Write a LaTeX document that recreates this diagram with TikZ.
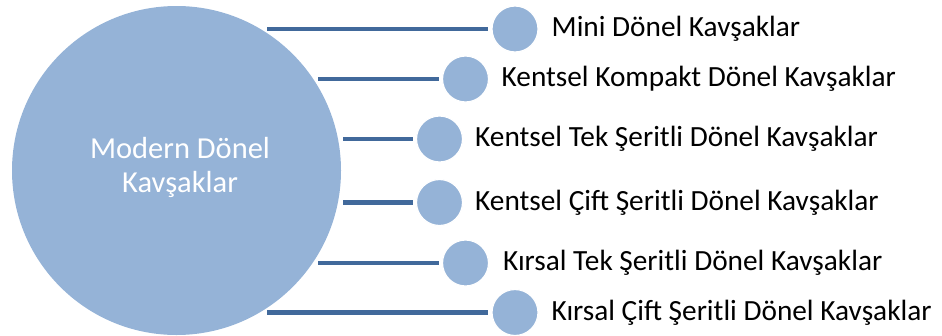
\documentclass[tikz,border=0pt]{standalone}
\usepackage{fontspec}
\setmainfont{Carlito}
\definecolor{circfill}{HTML}{95B3D7}
\definecolor{linecol}{HTML}{41699B}
\tikzset{
  bigcirc/.style={circle, fill=circfill, minimum size=329pt, inner sep=0pt},
  smallcirc/.style={circle, fill=circfill, draw=white, line width=1.2pt, minimum size=46pt, inner sep=0pt},
  conn/.style={draw=linecol, line width=4.3pt, preaction={draw=white, line width=8pt}},
  lbl/.style={anchor=west, font=\fontsize{29.3}{34}\selectfont, inner sep=0pt},
  bigtext/.style={align=center, text=white, font=\fontsize{30.5}{34}\selectfont, inner sep=0pt}
}
\begin{document}
\begin{tikzpicture}[x=1pt,y=-1pt]
\useasboundingbox (0,0) rectangle (942,335);
\node[bigcirc] (big) at (176.5,170.5) {};
\node[bigtext] (bigt) at (180,167) {Modern Dönel\\Kavşaklar};
% line start points
\coordinate (a1) at (267,29);
\coordinate (a2) at (318,79);
\coordinate (a3) at (343,139);
\coordinate (a4) at (343,202.5);
\coordinate (a5) at (318,263);
\coordinate (a6) at (267,312.5);
% small circles
\node[smallcirc] (s1) at (515,29) {};
\node[smallcirc] (s2) at (465.5,79) {};
\node[smallcirc] (s3) at (439.5,139) {};
\node[smallcirc] (s4) at (439.5,202.5) {};
\node[smallcirc] (s5) at (465.5,263) {};
\node[smallcirc] (s6) at (515,312.5) {};
\foreach \i in {1,...,6} {
  \path[conn] (a\i) -- ([xshift=-3pt]s\i.west);
}
\foreach \i in {1,...,6} {
  \node[smallcirc] at (s\i) {};
}
\node[lbl] (t1) at (551.5,29) {Mini Dönel Kavşaklar};
\node[lbl] (t2) at (501.5,79) {Kentsel Kompakt Dönel Kavşaklar};
\node[lbl] (t3) at (475,139) {Kentsel Tek Şeritli Dönel Kavşaklar};
\node[lbl] (t4) at (475,202.5) {Kentsel Çift Şeritli Dönel Kavşaklar};
\node[lbl] (t5) at (503,263) {Kırsal Tek Şeritli Dönel Kavşaklar};
\node[lbl] (t6) at (551.5,312.5) {Kırsal Çift Şeritli Dönel Kavşaklar};
\end{tikzpicture}
\end{document}
